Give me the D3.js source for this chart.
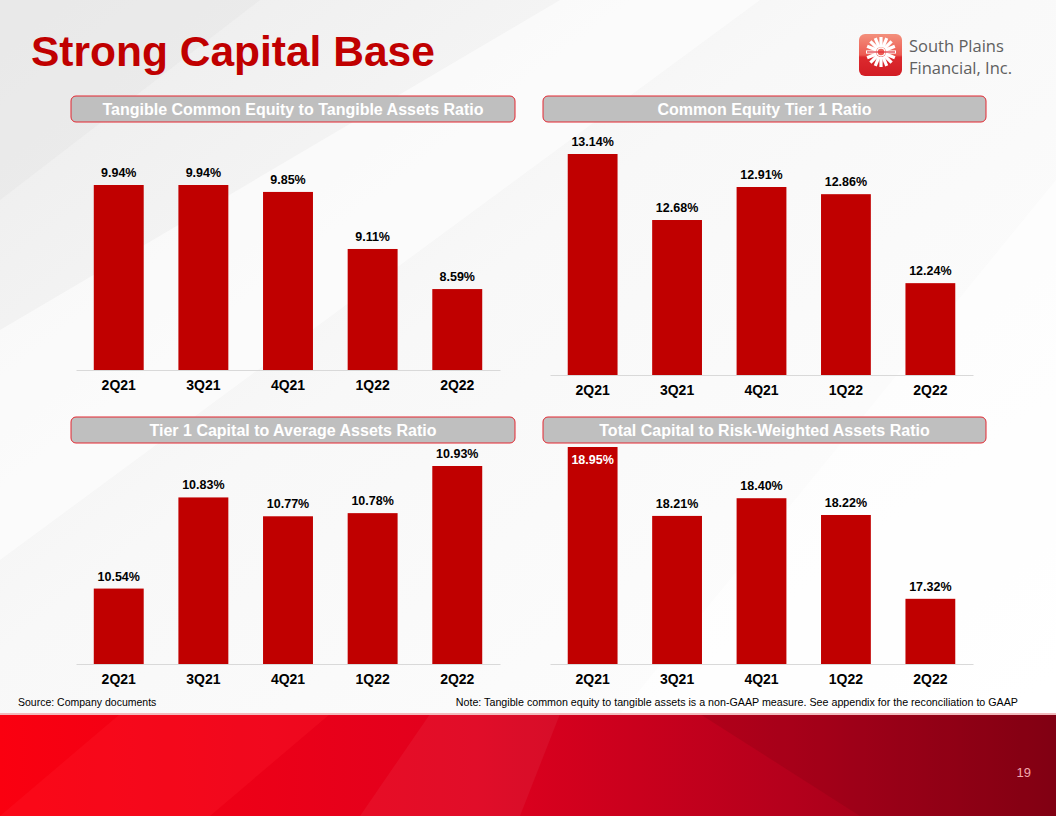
<!DOCTYPE html>
<html>
<head>
<meta charset="utf-8">
<script src="https://cdn.jsdelivr.net/npm/d3@7"></script>
<style>
  html, body { margin: 0; padding: 0; background: #fff; }
  svg { display: block; }
</style>
</head>
<body>
<div id="slide"></div>
<script>
// data
var quarters = ["2Q21", "3Q21", "4Q21", "1Q22", "2Q22"];
var tceRatio = [9.94, 9.94, 9.85, 9.11, 8.59];
var cet1Ratio = [13.14, 12.68, 12.91, 12.86, 12.24];
var tier1Leverage = [10.54, 10.83, 10.77, 10.78, 10.93];
var totalCapital = [18.95, 18.21, 18.40, 18.22, 17.32];

var W = 1056, H = 816;
var red = "#c00000";

var svg = d3.select("#slide")
    .append("svg")
    .attr("width", W)
    .attr("height", H);

var defs = svg.append("defs");

// background
var bg = defs.append("linearGradient").attr("id", "bg")
    .attr("x1", 0).attr("y1", 0).attr("x2", 1).attr("y2", 1);
bg.append("stop").attr("offset", "0%").attr("stop-color", "#ececec");
bg.append("stop").attr("offset", "40%").attr("stop-color", "#f8f8f8");
bg.append("stop").attr("offset", "100%").attr("stop-color", "#ffffff");
svg.append("rect").attr("width", W).attr("height", H).attr("fill", "url(#bg)");

// soft diagonal shapes
svg.append("polygon").attr("points", "0,330 560,0 760,0 0,560")
    .attr("fill", "#ffffff").attr("opacity", 0.55);
svg.append("polygon").attr("points", "620,714 1056,180 1056,714")
    .attr("fill", "#ffffff").attr("opacity", 0.6);
svg.append("polygon").attr("points", "0,0 260,0 0,200")
    .attr("fill", "#e6e6e6").attr("opacity", 0.5);

// bottom red band
var band = defs.append("linearGradient").attr("id", "band")
    .attr("x1", 0).attr("y1", 0).attr("x2", 1).attr("y2", 0);
band.append("stop").attr("offset", "0%").attr("stop-color", "#fa0010");
band.append("stop").attr("offset", "45%").attr("stop-color", "#e0001e");
band.append("stop").attr("offset", "75%").attr("stop-color", "#b4001c");
band.append("stop").attr("offset", "100%").attr("stop-color", "#880014");
svg.append("rect").attr("x", 0).attr("y", 714).attr("width", W).attr("height", H - 714)
    .attr("fill", "url(#band)");
svg.append("polygon").attr("points", "120,714 330,714 210,816 0,816")
    .attr("fill", "#ff2030").attr("opacity", 0.25);
svg.append("polygon").attr("points", "430,714 560,714 520,816 360,816")
    .attr("fill", "#ffffff").attr("opacity", 0.05);
svg.append("polygon").attr("points", "700,714 1056,714 1056,816 860,816")
    .attr("fill", "#600010").attr("opacity", 0.15);
svg.append("rect").attr("x", 0).attr("y", 713).attr("width", W).attr("height", 2)
    .attr("fill", "#f2b8bc");

svg.append("text")
    .attr("x", 1031).attr("y", 777)
    .attr("text-anchor", "end")
    .style("font-family", "'Liberation Sans Narrow', 'Liberation Sans', sans-serif")
    .style("font-size", "13px")
    .style("fill", "#f3a9ae")
    .text("19");

// title
svg.append("text")
    .attr("x", 31).attr("y", 66)
    .style("font-family", "'Liberation Sans', Arial, sans-serif")
    .style("font-weight", "bold")
    .style("font-size", "42.5px")
    .style("fill", red)
    .text("Strong Capital Base");

// logo
var lg = defs.append("linearGradient").attr("id", "logo")
    .attr("x1", 0).attr("y1", 0).attr("x2", 0).attr("y2", 1);
lg.append("stop").attr("offset", "0%").attr("stop-color", "#f3907c");
lg.append("stop").attr("offset", "50%").attr("stop-color", "#ec5a52");
lg.append("stop").attr("offset", "55%").attr("stop-color", "#dc2a2e");
lg.append("stop").attr("offset", "100%").attr("stop-color", "#d21c24");
svg.append("rect")
    .attr("x", 859).attr("y", 34).attr("width", 43).attr("height", 42)
    .attr("rx", 6).attr("fill", "url(#logo)");
var wheel = svg.append("g").attr("transform", "translate(881,52)");
d3.range(16).forEach(function (i) {
    var a = i * Math.PI / 8;
    wheel.append("line")
        .attr("x1", Math.cos(a) * 5).attr("y1", Math.sin(a) * 5)
        .attr("x2", Math.cos(a) * 15).attr("y2", Math.sin(a) * 15)
        .attr("stroke", "#fff").attr("stroke-width", 3.2);
});
wheel.append("circle").attr("r", 4).attr("fill", "none").attr("stroke", "#fff").attr("stroke-width", 1.5);
wheel.append("line").attr("x1", -14).attr("x2", 14).attr("y1", 0).attr("y2", 0)
    .attr("stroke", "#e0303a").attr("stroke-width", 1.2);

svg.append("text").attr("x", 909).attr("y", 52)
    .style("font-family", "'Open Sans', sans-serif")
    .style("font-size", "16.5px").style("fill", "#606060")
    .text("South Plains");
svg.append("text").attr("x", 909).attr("y", 74)
    .style("font-family", "'Open Sans', sans-serif")
    .style("font-size", "16.5px").style("fill", "#606060")
    .text("Financial, Inc.");

// one bar panel
function drawPanel(p) {
    // header pill
    svg.append("rect")
        .attr("x", p.headX).attr("y", p.headY)
        .attr("width", p.headW).attr("height", 26)
        .attr("rx", 5)
        .attr("fill", "#bfbfbf")
        .attr("stroke", "#e32630").attr("stroke-width", 1);
    svg.append("text")
        .attr("x", p.headX + p.headW / 2)
        .attr("y", p.headY + 18.5)
        .attr("text-anchor", "middle")
        .style("font-family", "'Liberation Sans', Arial, sans-serif")
        .style("font-weight", "bold")
        .style("font-size", "16px")
        .style("fill", "#ffffff")
        .text(p.title);

    var x = d3.scaleBand()
        .domain(quarters)
        .range([p.left, p.right])
        .paddingInner(0.41)
        .paddingOuter(0.21);

    var y = d3.scaleLinear()
        .domain(p.domain)
        .range([p.base, p.top]);

    var g = svg.append("g");

    g.selectAll("rect.bar")
        .data(p.values)
        .enter()
        .append("rect")
        .attr("class", "bar")
        .attr("x", function (d, i) { return x(quarters[i]); })
        .attr("y", function (d) { return y(d); })
        .attr("width", x.bandwidth())
        .attr("height", function (d) { return p.base - y(d); })
        .attr("fill", red);

    // axis line + category labels
    var axis = g.append("g")
        .attr("transform", "translate(0," + p.base + ")")
        .call(d3.axisBottom(x).tickSize(0).tickPadding(10));
    axis.select(".domain").attr("stroke", "#d9d9d9").attr("stroke-width", 1.2);
    axis.selectAll("text")
        .style("font-family", "'Liberation Sans', Arial, sans-serif")
        .style("font-weight", "bold")
        .style("font-size", "14px")
        .style("fill", "#000");

    g.selectAll("text.val")
        .data(p.values)
        .enter()
        .append("text")
        .attr("class", "val")
        .attr("x", function (d, i) { return x(quarters[i]) + x.bandwidth() / 2; })
        .attr("y", function (d) {
            var t = y(d);
            return (t - 20 < p.headY + 26) ? t + 17 : t - 8;
        })
        .attr("text-anchor", "middle")
        .style("font-family", "'Liberation Sans', Arial, sans-serif")
        .style("font-weight", "bold")
        .style("font-size", "12.5px")
        .style("fill", function (d) {
            return (y(d) - 20 < p.headY + 26) ? "#ffffff" : "#000000";
        })
        .text(function (d) { return d.toFixed(2) + "%"; });
}

drawPanel({
    title: "Tangible Common Equity to Tangible Assets Ratio",
    values: tceRatio, left: 76, right: 500, headX: 71, headW: 444, headY: 96,
    base: 370, top: 185, domain: [7.54, 9.94]
});
drawPanel({
    title: "Common Equity Tier 1 Ratio",
    values: cet1Ratio, left: 550, right: 973, headX: 543, headW: 443, headY: 96,
    base: 375, top: 154, domain: [11.6, 13.14]
});
drawPanel({
    title: "Tier 1 Capital to Average Assets Ratio",
    values: tier1Leverage, left: 76, right: 500, headX: 71, headW: 444, headY: 417,
    base: 664, top: 466, domain: [10.30, 10.93]
});
drawPanel({
    title: "Total Capital to Risk-Weighted Assets Ratio",
    values: totalCapital, left: 550, right: 973, headX: 543, headW: 443, headY: 417,
    base: 664, top: 447, domain: [16.62, 18.95]
});

// footnotes
svg.append("text").attr("x", 18).attr("y", 706)
    .style("font-family", "'Liberation Sans Narrow', 'Liberation Sans', sans-serif")
    .style("font-size", "10.5px").style("fill", "#000")
    .text("Source: Company documents");
svg.append("text").attr("x", 1018).attr("y", 706)
    .attr("text-anchor", "end")
    .style("font-family", "'Liberation Sans Narrow', 'Liberation Sans', sans-serif")
    .style("font-size", "10.7px").style("fill", "#000")
    .text("Note: Tangible common equity to tangible assets is a non-GAAP measure. See appendix for the reconciliation to GAAP");
</script>
</body>
</html>
